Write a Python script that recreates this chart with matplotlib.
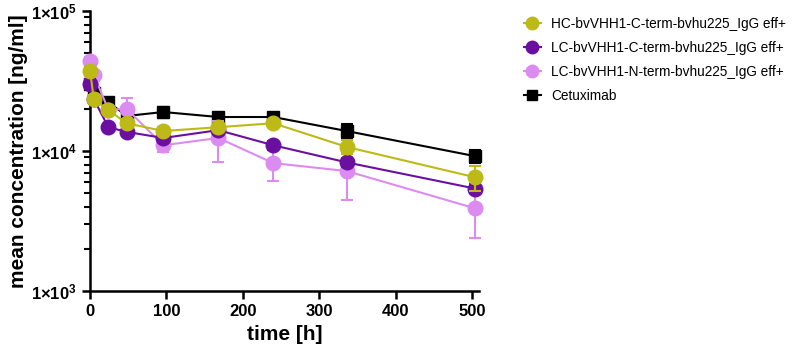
import matplotlib
matplotlib.use("Agg")
import matplotlib.pyplot as plt
import numpy as np
from matplotlib.ticker import FixedLocator, LogLocator, NullFormatter
from matplotlib.lines import Line2D

plt.rcParams['font.family'] = ['Liberation Sans', 'DejaVu Sans']
plt.rcParams['mathtext.fontset'] = 'custom'
plt.rcParams['mathtext.rm'] = 'Liberation Sans'
plt.rcParams['mathtext.bf'] = 'Liberation Sans:bold'

time = [0.1, 5, 24, 48, 96, 168, 240, 336, 504]

names = ["HC-bvVHH1-C-term-bvhu225_IgG eff+",
         "LC-bvVHH1-C-term-bvhu225_IgG eff+",
         "LC-bvVHH1-N-term-bvhu225_IgG eff+",
         "Cetuximab"]

hc_c_mean = [37300, 23500, 19600, 15800, 13900, 14800, 15800, 10700, 6500]
hc_c_sd   = [3000, 1500, 1200, 1000, 900, 900, 900, 1200, 1300]
lc_c_mean = [30100, 23500, 14800, 13700, 12400, 14100, 11000, 8300, 5400]
lc_c_sd   = [2500, 1500, 900, 800, 800, 900, 800, 600, 400]
lc_n_mean = [43900, 34900, 19800, 20000, 11000, 12400, 8200, 7200, 3900]
lc_n_sd   = [3000, 2500, 1000, 4000, 1100, 4000, 2100, 2700, 1500]
cet_mean  = [30000, 26000, 22400, 17800, 19000, 17500, 17500, 13900, 9200]
cet_sd    = [2000, 1500, 1200, 1000, 1700, 900, 900, 1600, 1000]

colors = ["#BDB917", "#6B0FA0", "#DC8CF0", "#000000"]
markers = ["o", "o", "o", "s"]
msizes = [10.5, 10.5, 10.5, 9]
zorders = [5, 4, 3, 2.5]

fig = plt.figure(figsize=(8, 3.55), dpi=100)
ax = fig.add_axes([0.1125, 0.18, 0.486, 0.789])

series = [(hc_c_mean, hc_c_sd), (lc_c_mean, lc_c_sd), (lc_n_mean, lc_n_sd), (cet_mean, cet_sd)]
for (m, s), c, mk, ms, z, n in zip(series, colors, markers, msizes, zorders, names):
    ax.errorbar(time, m, yerr=s, color=c, marker=mk, markersize=ms, lw=1.5,
                elinewidth=1.5, capsize=4, capthick=1.5, zorder=z, clip_on=False, label=n)

ax.set_yscale('log')
ax.set_ylim(1e3, 1e5)
ax.set_xlim(0, 509)
ax.set_xticks([0, 100, 200, 300, 400, 500])
ax.yaxis.set_major_locator(FixedLocator([1e3, 1e4, 1e5]))
ax.set_yticklabels([r'$\mathbf{1{\times}10^{3}}$', r'$\mathbf{1{\times}10^{4}}$', r'$\mathbf{1{\times}10^{5}}$'])
ax.yaxis.set_minor_locator(LogLocator(base=10, subs=np.arange(2, 10)))
ax.yaxis.set_minor_formatter(NullFormatter())

for sp in ['top', 'right']:
    ax.spines[sp].set_visible(False)
for sp in ['left', 'bottom']:
    ax.spines[sp].set_linewidth(1.8)

ax.tick_params(axis='both', which='major', length=6, width=1.8, labelsize=12)
ax.tick_params(axis='y', which='minor', length=4, width=1.5)
for lab in ax.get_xticklabels():
    lab.set_fontweight('bold')

ax.set_xlabel('time [h]', fontsize=15, fontweight='bold', labelpad=4)
ax.set_ylabel('mean concentration [ng/ml]', fontsize=15, fontweight='bold', labelpad=2)

leg_handles = [Line2D([0], [0], color=c, marker=mk, markersize=ms, lw=1.5)
               for c, mk, ms in zip(colors, markers, [9, 9, 9, 7.5])]
fig.legend(leg_handles, names, loc='upper left', bbox_to_anchor=(0.64, 0.988),
           frameon=False, fontsize=9.8, handlelength=1.2, labelspacing=0.75,
           handletextpad=0.8, borderpad=0.4)

fig.savefig('out.png', dpi=100)
